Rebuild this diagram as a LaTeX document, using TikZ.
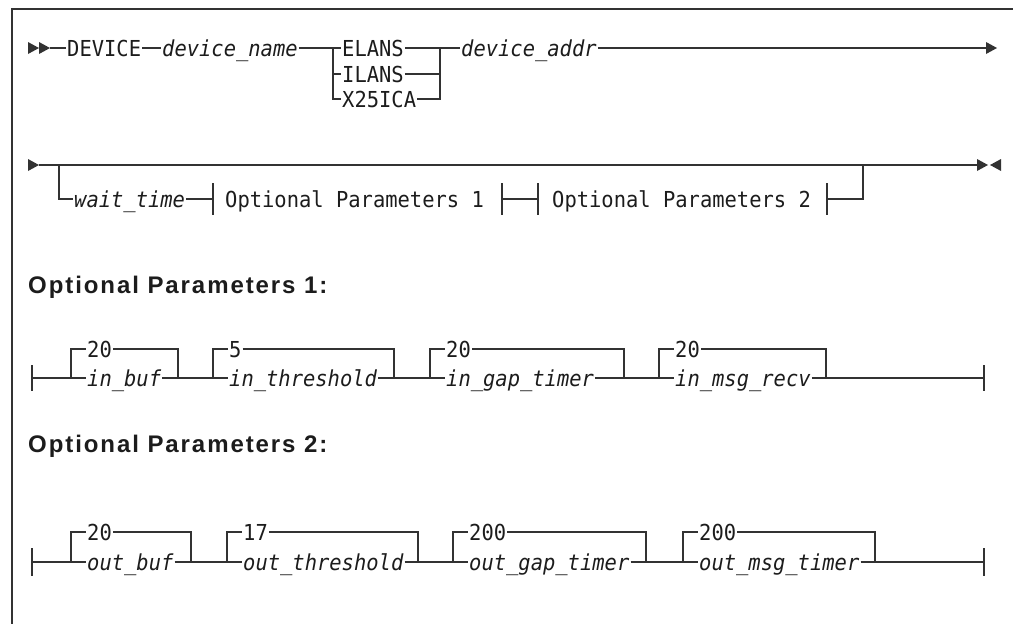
\documentclass[tikz,border=0pt]{standalone}
\usepackage{fontspec}
\setmonofont[FakeStretch=0.93]{DejaVu Sans Mono}
\newfontfamily\headfont[LetterSpace=8]{Liberation Sans}
\usetikzlibrary{calc}
\definecolor{linec}{RGB}{50,50,50}
\definecolor{txtc}{RGB}{28,28,28}
\newcommand\railfont{\fontsize{22}{26}\selectfont\ttfamily}
\tikzset{
  rail/.style={draw=linec, line width=1.1pt},
  dashmark/.style={draw=linec, line width=2.2pt},
  kw/.style={anchor=west, inner xsep=1pt, inner ysep=0pt, text height=16pt,
             text depth=0pt, text=txtc, font=\railfont},
  var/.style={kw, font=\railfont\itshape},
  head/.style={anchor=base west, inner sep=0pt, text=txtc,
               font=\headfont\bfseries\fontsize{24}{29}\selectfont},
  pics/rtri/.style={code={\fill[linec] (0,-6) -- (11,0) -- (0,6) -- cycle;}},
  pics/ltri/.style={code={\fill[linec] (0,-6) -- (-11,0) -- (0,6) -- cycle;}},
  pics/vbar/.style={code={\draw[rail] (0,-#1) -- (0,#1);}},
}
\begin{document}
\begin{tikzpicture}[x=1pt,y=-1pt]
\useasboundingbox (0,0) rectangle (1013,624);
% frame
\draw[draw=linec, line width=1.2pt] (1013,9) -- (12,9) -- (12,624);

% ---------------- first line of the statement
\pic at (28,48) {rtri};
\pic at (39,48) {rtri};
\coordinate (s1) at (50,48);
\node[kw]  (device) at (66,48) {DEVICE};
\node[var] (dname)  at (161,48) {device\_name};
\coordinate (b1l) at (333,48);
\coordinate (b1r) at (440,48);
\node[kw]  (elans) at (341,48) {ELANS};
\node[kw]  (ilans) at (341,74) {ILANS};
\node[kw]  (x25)   at (341,99) {X25ICA};
\node[var] (daddr) at (460,48) {device\_addr};
\coordinate (e1) at (986,48);
\draw[rail] (s1) -- (device.west);
\draw[rail] (device.east) -- (dname.west);
\draw[rail] (dname.east) -- (b1l) -- (elans.west);
\draw[rail] (elans.east) -- (b1r) -- (daddr.west);
\draw[rail] (daddr.east) -- (e1);
\draw[rail] (b1l) |- (x25.west);
\draw[rail] (b1l |- ilans.west) -- (ilans.west);
\draw[rail] (ilans.east) -- (b1r |- ilans.west);
\draw[rail] (x25.east) -| (b1r);
\pic at (e1) {rtri};

% ---------------- second line of the statement
\pic at (28,165) {rtri};
\coordinate (s2)  at (39,165);
\coordinate (b2l) at (59,165);
\coordinate (b2r) at (863,165);
\coordinate (e2)  at (977,165);
\node[var] (wait) at (73,199) {wait\_time};
\coordinate (t1a) at (213,199);
\node[kw]  (op1)  at (224,199) {Optional Parameters 1};
\coordinate (t1b) at (502,199);
\coordinate (t2a) at (538,199);
\node[kw]  (op2)  at (551,199) {Optional Parameters 2};
\coordinate (t2b) at (827,199);
\draw[rail] (s2) -- (b2l) -- (b2r) -- (e2);
\draw[dashmark] ($(b2r)+(6,0)$) -- ++(23,0);
\draw[rail] (b2l) |- (wait.west);
\draw[rail] (wait.east) -- (t1a);
\draw[rail] (t1b) -- (t2a);
\draw[rail] (t2b) -| (b2r);
\pic at (t1a) {vbar=16};
\pic at (t1b) {vbar=16};
\pic at (t2a) {vbar=16};
\pic at (t2b) {vbar=16};
\pic at (e2) {rtri};
\pic at (1001,165) {ltri};

% ---------------- fragment: Optional Parameters 1
\node[head] (h1) at (28,293) {Optional Parameters 1:};
\coordinate (p1g0-r) at (32,378);
\pic at (p1g0-r) {vbar=13};
\draw[dashmark] ($(p1g0-r)+(8,0)$) -- ++(7,0);
\foreach \n/\xl/\xr/\d/\v in {1/71/178/20/in\_buf, 2/213/394/5/in\_threshold,
    3/430/624/20/in\_gap\_timer, 4/659/826/20/in\_msg\_recv}{
  \pgfmathtruncatemacro\prev{\n-1}
  \coordinate (p1g\n-l) at (\xl,378);
  \coordinate (p1g\n-r) at (\xr,378);
  \node[kw]  (p1d\n) at (\xl+15,349) {\d};
  \node[var] (p1v\n) at (\xl+15,378) {\v};
  \draw[rail] (p1g\prev-r) -- (p1g\n-l) -- (p1v\n.west);
  \draw[rail] (p1v\n.east) -- (p1g\n-r);
  \draw[rail] (p1g\n-l) |- (p1d\n.west);
  \draw[rail] (p1d\n.east) -| (p1g\n-r);
}
\coordinate (p1end) at (984,378);
\draw[rail] (p1g4-r) -- (p1end);
\draw[dashmark] ($(p1g4-r)+(7,0)$) -- ++(18,0);
\pic at (p1end) {vbar=13};

% ---------------- fragment: Optional Parameters 2
\node[head] (h2) at (28,452) {Optional Parameters 2:};
\coordinate (p2g0-r) at (32,562);
\pic at (p2g0-r) {vbar=14};
\draw[dashmark] ($(p2g0-r)+(8,0)$) -- ++(7,0);
\foreach \n/\xl/\xr/\d/\v in {1/71/191/20/out\_buf, 2/227/418/17/out\_threshold,
    3/453/646/200/out\_gap\_timer, 4/683/875/200/out\_msg\_timer}{
  \pgfmathtruncatemacro\prev{\n-1}
  \coordinate (p2g\n-l) at (\xl,562);
  \coordinate (p2g\n-r) at (\xr,562);
  \node[kw]  (p2d\n) at (\xl+15,532) {\d};
  \node[var] (p2v\n) at (\xl+15,562) {\v};
  \draw[rail] (p2g\prev-r) -- (p2g\n-l) -- (p2v\n.west);
  \draw[rail] (p2v\n.east) -- (p2g\n-r);
  \draw[rail] (p2g\n-l) |- (p2d\n.west);
  \draw[rail] (p2d\n.east) -| (p2g\n-r);
}
\coordinate (p2end) at (984,562);
\draw[rail] (p2g4-r) -- (p2end);
\draw[dashmark] ($(p2g4-r)+(6,0)$) -- ++(23,0);
\pic at (p2end) {vbar=14};
\end{tikzpicture}
\end{document}
